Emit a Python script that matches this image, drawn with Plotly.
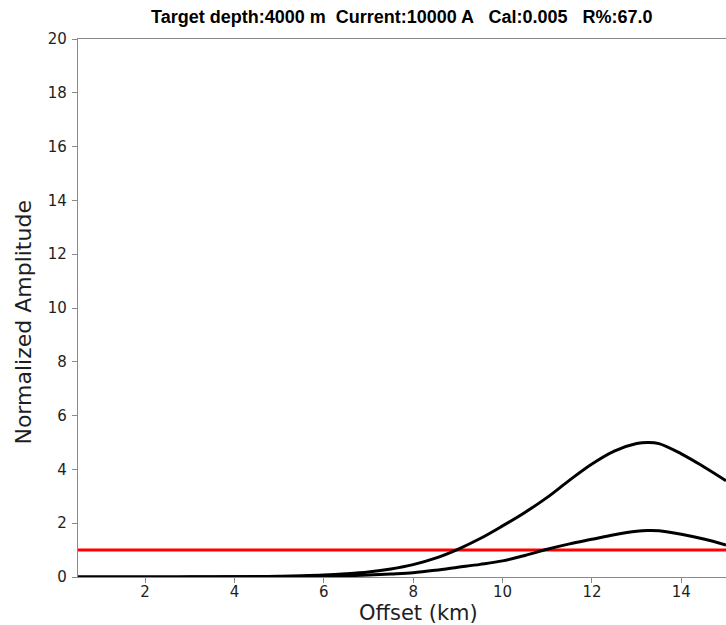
import plotly.graph_objects as go

# Offset positions (km) and normalized amplitude responses
offset_km = [0.5, 1.0, 1.5, 2.0, 2.5, 3.0, 3.5, 4.0, 4.5, 5.0, 5.5, 6.0, 6.5, 7.0,
             7.5, 8.0, 8.5, 9.0, 9.5, 10.0, 10.5, 11.0, 11.5, 12.0, 12.5, 13.0,
             13.25, 13.5, 14.0, 14.5, 15.0]
amp_strong = [0.0, 0.0, 0.001, 0.002, 0.003, 0.005, 0.007, 0.01, 0.016, 0.026,
              0.042, 0.07, 0.12, 0.19, 0.3, 0.46, 0.7, 1.03, 1.43, 1.9, 2.4,
              2.96, 3.6, 4.2, 4.68, 4.96, 5.0, 4.96, 4.58, 4.1, 3.58]
amp_weak = [0.0, 0.0, 0.0, 0.001, 0.002, 0.003, 0.004, 0.006, 0.008, 0.012,
            0.018, 0.028, 0.048, 0.078, 0.115, 0.16, 0.25, 0.36, 0.47, 0.6,
            0.8, 1.03, 1.23, 1.4, 1.57, 1.7, 1.73, 1.72, 1.59, 1.41, 1.19]
threshold = 1.0

title_text = "Target depth:4000 m  Current:10000 A   Cal:0.005   R%:67.0"
x_title = "Offset (km)"
y_title = "Normalized Amplitude"
x_ticks = [2, 4, 6, 8, 10, 12, 14]
y_ticks = [0, 2, 4, 6, 8, 10, 12, 14, 16, 18, 20]

fig = go.Figure()

# Detection threshold
fig.add_trace(go.Scatter(
    x=[offset_km[0], offset_km[-1]], y=[threshold, threshold],
    mode="lines", line=dict(color="#ff0000", width=3),
    showlegend=False, hoverinfo="skip"))

for amp in (amp_strong, amp_weak):
    fig.add_trace(go.Scatter(
        x=offset_km, y=amp, mode="lines",
        line=dict(color="black", width=3, shape="spline", smoothing=1.0),
        showlegend=False))

axis_line = "#8a8a8a"
tick_font = dict(family="DejaVu Sans", size=15, color="#1e1e1e")

fig.update_layout(
    width=726, height=625,
    margin=dict(l=78, r=0, t=39, b=48),
    paper_bgcolor="white", plot_bgcolor="white",
    xaxis=dict(range=[0.5, 15], tickvals=x_ticks, ticks="outside",
               ticklen=5, tickcolor=axis_line, showline=True,
               linecolor=axis_line, linewidth=1.3, mirror=True,
               ticklabelstandoff=-4,
               showgrid=False, zeroline=False, tickfont=tick_font),
    yaxis=dict(range=[0, 20], tickvals=y_ticks, ticks="outside",
               ticklen=5, tickcolor=axis_line, showline=True,
               linecolor=axis_line, linewidth=1.3,
               ticklabelstandoff=2,
               showgrid=False, zeroline=False, tickfont=tick_font),
    annotations=[
        dict(text="<b>" + title_text + "</b>", xref="paper", yref="paper",
             x=0.5, y=1.04, xanchor="center", yanchor="middle",
             showarrow=False,
             font=dict(family="Liberation Sans, Arial", size=18,
                       color="black")),
        dict(text=x_title, xref="paper", yref="paper",
             x=0.525, y=-0.066, xanchor="center", yanchor="middle",
             showarrow=False, borderpad=0,
             font=dict(family="DejaVu Sans", size=21, color="#1e1e1e")),
        dict(text=y_title, xref="paper", yref="paper",
             x=-0.084, y=0.474, xanchor="center", yanchor="middle",
             textangle=-90, showarrow=False,
             font=dict(family="DejaVu Sans", size=22, color="#1e1e1e")),
    ],
)

fig.write_html("out.html")
